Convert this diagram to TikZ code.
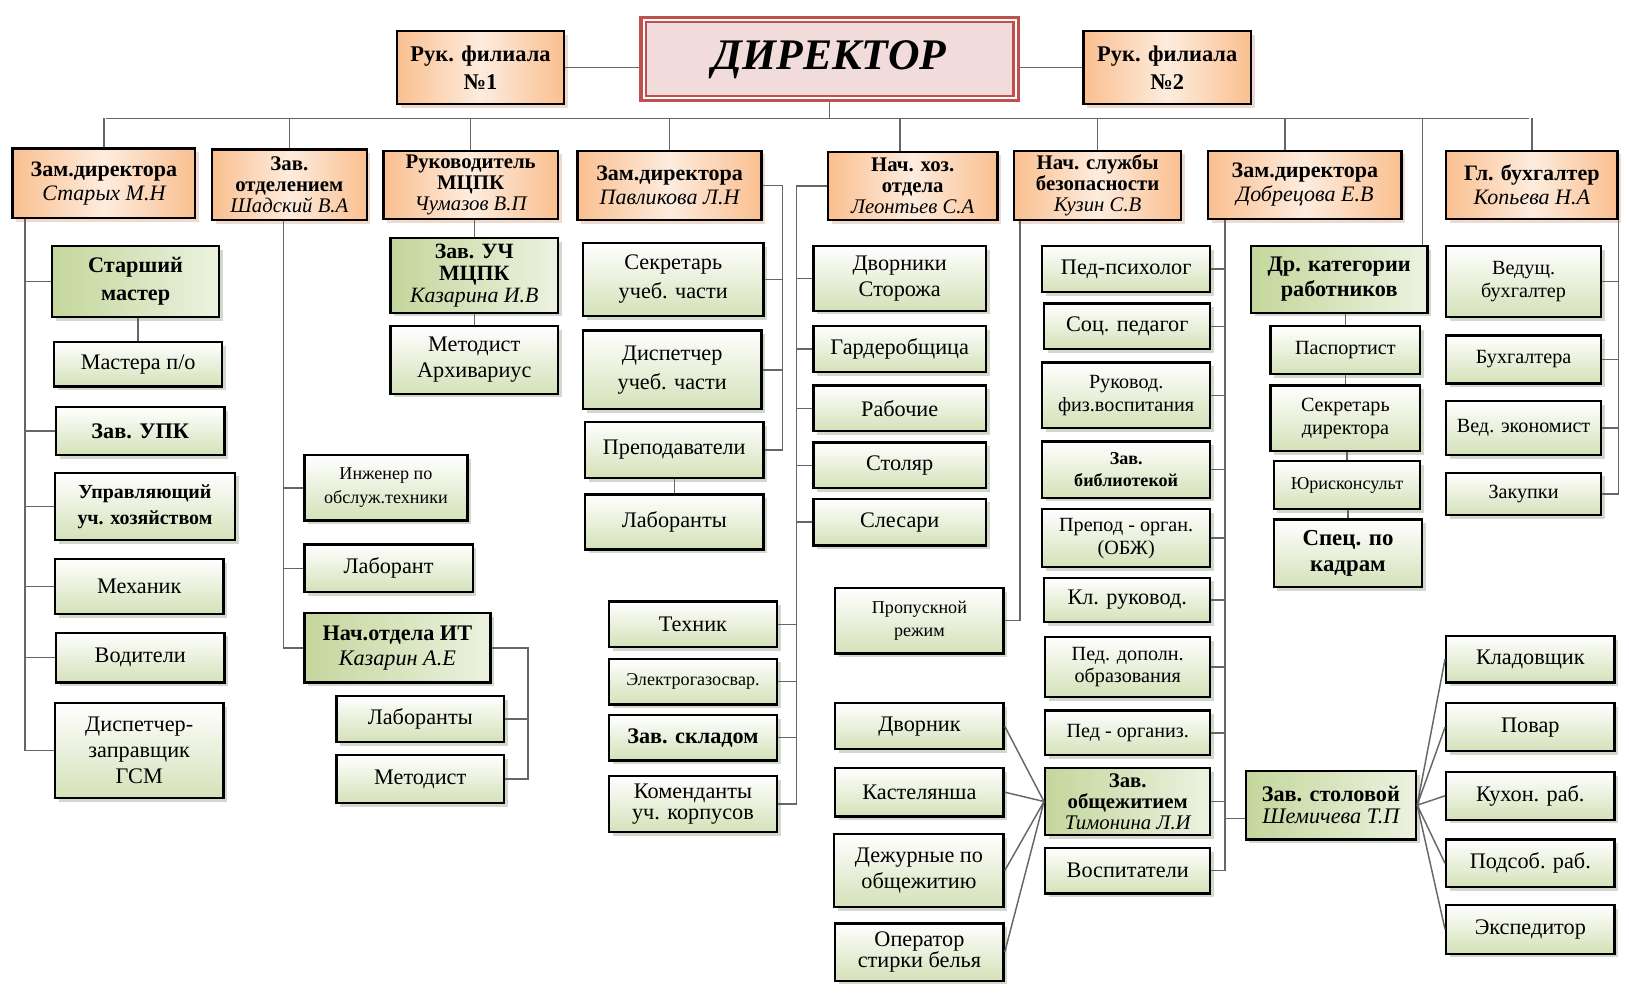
\documentclass[tikz,border=0pt]{standalone}
\usepackage{fontspec}
\setmainfont{Liberation Serif}
\usetikzlibrary{shadows}
\definecolor{hdrorange}{RGB}{250,191,143}
\definecolor{hdrlight}{RGB}{253,236,222}
\definecolor{hdrshadow}{RGB}{224,184,158}
\definecolor{jobgreen}{RGB}{212,225,184}
\definecolor{leadgreen}{RGB}{196,214,156}
\definecolor{leadlight}{RGB}{236,242,224}
\definecolor{jobshadow}{RGB}{170,176,152}
\definecolor{dirred}{RGB}{192,80,77}
\definecolor{dirpink}{RGB}{242,220,219}
\newcommand{\fio}[1]{{\mdseries\itshape #1}}

\begin{document}
\begin{tikzpicture}[x=0.5pt, y=-0.5pt,
  box/.style={draw, line width=1.1pt, inner sep=1pt, align=center,
    font={\fontsize{10.7}{12.5}\selectfont}},
  chief/.style={draw=dirred, line width=3pt, fill=dirpink, align=center,
    font={\bfseries\itshape\fontsize{21}{24}\selectfont}},
  hdr/.style={box, left color=hdrorange, right color=hdrorange,
    middle color=hdrlight,
    drop shadow={shadow xshift=1.8pt, shadow yshift=-1.8pt, fill=hdrshadow},
    font={\bfseries\fontsize{10.6}{11.5}\selectfont}},
  packed/.style={font={\bfseries\fontsize{10}{10}\selectfont\lineskiplimit=-20pt}},
  job/.style={box, top color=white, bottom color=jobgreen,
    drop shadow={shadow xshift=1.8pt, shadow yshift=-1.8pt, fill=jobshadow}},
  lead/.style={job, left color=leadgreen, right color=leadlight},
  sz/.style 2 args={minimum width=#1*0.5pt, minimum height=#2*0.5pt},
  bftext/.style={font={\bfseries\fontsize{10.7}{12.5}\selectfont}},
  smtext/.style={font={\fontsize{9.7}{11}\selectfont}},
  tinytext/.style={font={\fontsize{8.7}{11.5}\selectfont}},
  conn/.style={draw=black!60, line width=0.7pt}]
\useasboundingbox (0,0) rectangle (1568,966);

% top level
\node[chief, sz={360}{77}] (dir) at (798.5,57) {ДИРЕКТОР};
\draw[white, line width=1pt] ([shift={(2pt,2pt)}]dir.south west)
  rectangle ([shift={(-2pt,-2pt)}]dir.north east);
\draw[dirred, line width=1pt] ([shift={(3pt,3pt)}]dir.south west)
  rectangle ([shift={(-3pt,-3pt)}]dir.north east);
\node[hdr, sz={161}{70}, font={\bfseries\fontsize{10.8}{13.5}\selectfont}] (fil1)
  at (462.5,65) {Рук. филиала\\№1};
\node[hdr, sz={161}{70}, font={\bfseries\fontsize{10.8}{13.5}\selectfont}] (fil2)
  at (1123.5,65) {Рук. филиала\\№2};

% deputies and heads
\node[hdr, sz={176}{67}] (zamstar) at (100,176.5) {Зам.директора\\\fio{Старых М.Н}};
\node[hdr, packed, sz={149}{68}] (zavotd) at (278.5,178) {Зав.\\отделением\\\fio{Шадский В.А}};
\node[hdr, packed, sz={168}{66}] (rukmcpk) at (453,178) {Руководитель\\МЦПК\\\fio{Чумазов В.П}};
\node[hdr, sz={177}{67}] (zampav) at (644.5,178.5) {Зам.директора\\\fio{Павликова Л.Н}};
\node[hdr, packed, sz={163}{66}] (nachhoz) at (878.5,179) {Нач. хоз.\\отдела\\\fio{Леонтьев С.А}};
\node[hdr, packed, sz={161}{67}] (bez) at (1056.5,178.5) {Нач. службы\\безопасности\\\fio{Кузин С.В}};
\node[hdr, sz={186}{66}] (zamdob) at (1256,178) {Зам.директора\\\fio{Добрецова Е.В}};
\node[hdr, sz={165}{66}] (glbuh) at (1474.5,178) {Гл. бухгалтер\\\fio{Копьева Н.А}};

% column: Старых
\node[lead, sz={161}{68}, font={\bfseries\fontsize{10.7}{13.5}\selectfont}] (starm)
  at (130.5,271) {Старший\\мастер};
\node[job, sz={162}{43}] (mpo) at (133,350.5) {Мастера п/о};
\node[job, bftext, sz={162}{46}] (upk) at (135,415) {Зав. УПК};
\node[job, sz={173}{65}, font={\bfseries\fontsize{9.6}{12.5}\selectfont}] (uprav)
  at (139.5,487.5) {Управляющий\\уч. хозяйством};
\node[job, sz={162}{53}] (mech) at (134,564.5) {Механик};
\node[job, sz={162}{48}] (vod) at (135,633) {Водители};
\node[job, sz={162}{91}] (disp) at (134,722.5) {Диспетчер-\\заправщик\\ГСМ};

% column: Шадский
\node[job, tinytext, sz={157}{63}] (ing) at (371.5,469.5) {Инженер по\\обслуж.техники};
\node[job, sz={162}{46}] (labt) at (374,547) {Лаборант};
\node[lead, sz={179}{67}, font={\bfseries\fontsize{10.7}{12}\selectfont}] (itnach)
  at (382.5,623.5) {Нач.отдела ИТ\\\fio{Казарин А.Е}};
\node[job, sz={161}{44}] (itlab) at (404.5,692) {Лаборанты};
\node[job, sz={161}{46}] (itmet) at (404.5,750) {Методист};

% column: Чумазов
\node[lead, sz={161}{72}, font={\bfseries\fontsize{10.5}{10.5}\selectfont\lineskiplimit=-20pt}] (zavuch)
  at (456.5,265) {Зав. УЧ\\МЦПК\\\fio{Казарина И.В}};
\node[job, sz={161}{65}] (metarh) at (456.5,346.5) {Методист\\Архивариус};

% column: Павликова
\node[job, sz={174}{70}, font={\fontsize{10.7}{14}\selectfont}] (sekr) at (648,269) {Секретарь\\учеб. части};
\node[job, sz={172}{76}, font={\fontsize{10.7}{14}\selectfont}] (dispu) at (647,356) {Диспетчер\\учеб. части};
\node[job, sz={172}{54}] (prep) at (649,433) {Преподаватели};
\node[job, sz={172}{53}] (labp) at (649,502.5) {Лаборанты};

% column: Леонтьев
\node[job, sz={166}{62}] (dvs) at (866,268) {Дворники\\Сторожа};
\node[job, sz={166}{44}] (gard) at (866,336) {Гардеробщица};
\node[job, sz={166}{44}] (rab) at (866,393) {Рабочие};
\node[job, sz={166}{44}] (stolyar) at (866,448) {Столяр};
\node[job, sz={166}{45}] (sles) at (866,502.5) {Слесари};
\node[job, sz={162}{44}] (tech) at (667,601) {Техник};
\node[job, tinytext, sz={162}{44}] (elek) at (667,656) {Электрогазосвар.};
\node[job, bftext, sz={162}{44}] (sklad) at (667,710) {Зав. складом};
\node[job, sz={162}{54}, font={\fontsize{10.7}{10.5}\selectfont\lineskiplimit=-20pt}] (koment)
  at (667,774) {Коменданты\\уч. корпусов};

% column: Кузин
\node[job, tinytext, sz={162}{63}] (propusk) at (885,597.5) {Пропускной\\режим};

% hostel
\node[job, sz={162}{44}] (dvor) at (885,699) {Дворник};
\node[job, sz={162}{47}] (kast) at (885,762.5) {Кастелянша};
\node[job, sz={163}{70}] (dezh) at (884.5,838) {Дежурные по\\общежитию};
\node[job, sz={162}{55}, font={\fontsize{10.7}{10}\selectfont\lineskiplimit=-20pt}] (oper)
  at (885,916.5) {Оператор\\стирки белья};
\node[lead, sz={159}{65}, font={\bfseries\fontsize{10}{10}\selectfont\lineskiplimit=-20pt}] (obsch)
  at (1085.5,771.5) {Зав.\\общежитием\\\fio{Тимонина Л.И}};
\node[job, sz={159}{44}] (vosp) at (1085.5,838) {Воспитатели};

% column: Добрецова
\node[job, sz={162}{44}] (psych) at (1084,259) {Пед-психолог};
\node[job, sz={160}{44}] (socp) at (1085,314) {Соц. педагог};
\node[job, smtext, sz={162}{63}] (fizv) at (1084,380.5) {Руковод.\\физ.воспитания};
\node[job, sz={162}{54}, font={\bfseries\fontsize{8.7}{11}\selectfont}] (bibl)
  at (1084,452) {Зав.\\библиотекой};
\node[job, smtext, sz={162}{56}] (obzh) at (1084,518) {Препод - орган.\\(ОБЖ)};
\node[job, sz={160}{43}] (klruk) at (1085,577.5) {Кл. руковод.};
\node[job, smtext, sz={159}{58}] (peddop) at (1085.5,642) {Пед. дополн.\\образования};
\node[job, smtext, sz={159}{43}] (pedorg) at (1085.5,705.5) {Пед - организ.};
\node[lead, sz={164}{66}, font={\bfseries\fontsize{10.7}{10.5}\selectfont}] (stolov)
  at (1281,775) {Зав. столовой\\\fio{Шемичева Т.П}};

% other staff
\node[lead, sz={170}{64}, font={\bfseries\fontsize{10.7}{12}\selectfont}] (drk)
  at (1289,269) {Др. категории\\работников};
\node[job, smtext, sz={144}{46}] (pasp) at (1295,337) {Паспортист};
\node[job, smtext, sz={144}{63}] (sekd) at (1295,402.5) {Секретарь\\директора};
\node[job, tinytext, sz={141}{46}] (yur) at (1296.5,467) {Юрисконсульт};
\node[job, sz={143}{65}, font={\bfseries\fontsize{11}{12.5}\selectfont}] (kadr)
  at (1297.5,532.5) {Спец. по\\кадрам};

% accounting
\node[job, smtext, sz={149}{68}] (vbuh) at (1466.5,271) {Ведущ.\\бухгалтер};
\node[job, smtext, sz={149}{46}] (buhs) at (1466.5,346) {Бухгалтера};
\node[job, smtext, sz={149}{52}] (vecon) at (1466.5,412) {Вед. экономист};
\node[job, smtext, sz={149}{41}] (zak) at (1466.5,475.5) {Закупки};

% canteen
\node[job, sz={162}{45}] (klad) at (1473,634.5) {Кладовщик};
\node[job, sz={162}{46}] (povar) at (1473,700) {Повар};
\node[job, sz={162}{46}] (kuhon) at (1473,766) {Кухон. раб.};
\node[job, sz={162}{46}] (podsob) at (1473,831) {Подсоб. раб.};
\node[job, sz={162}{47}] (eksp) at (1473,894.5) {Экспедитор};

% connectors
\coordinate (busL) at (102,114);
\coordinate (busR) at (1472,114);
\draw[conn] (busL) -- (busR) (dir.south) -- (dir.south |- busL);
\draw[conn] (fil1.east) -- (fil1.east -| dir.west) (fil2.west) -- (fil2.west -| dir.east);
\draw[conn] (zamstar.north) -- (zamstar.north |- busL)
  (zavotd.north) -- (zavotd.north |- busL)
  (rukmcpk.north) -- (rukmcpk.north |- busL)
  (zampav.north) -- (zampav.north |- busL)
  ([xshift=-6pt]nachhoz.north) -- ([xshift=-6pt]nachhoz.north |- busL)
  (bez.north) -- (bez.north |- busL)
  ([xshift=-9.5pt]zamdob.north) -- ([xshift=-9.5pt]zamdob.north |- busL)
  (glbuh.north) -- (glbuh.north |- busL)
  ([xshift=-3pt]drk.north east) -- ([xshift=-3pt]drk.north east |- busR);

\coordinate (c1) at ([xshift=6.5pt]zamstar.south west);
\draw[conn] (c1) |- (disp.west) (starm.west) -- (starm.west -| c1)
  (upk.west) -- (upk.west -| c1) (uprav.west) -- (uprav.west -| c1)
  (mech.west) -- (mech.west -| c1) (vod.west) -- (vod.west -| c1)
  (mpo.north) -- (mpo.north |- starm.south);

\coordinate (c2) at ([xshift=-2.75pt]zavotd.south);
\coordinate (itr) at ([xshift=17.5pt]itnach.east);
\draw[conn] (c2) |- (itnach.west) (ing.west) -- (ing.west -| c2)
  (labt.west) -- (labt.west -| c2)
  (itnach.east) -- (itr) |- (itmet.east) (itlab.east) -- (itlab.east -| itr);

\draw[conn] (zavuch.north) -- (zavuch.north |- rukmcpk.south)
  (metarh.north) -- (zavuch.south);

\coordinate (c4) at ([xshift=9.5pt]zampav.east);
\draw[conn] (zampav.east) -- (c4) |- (prep.east)
  (sekr.east) -- (sekr.east -| c4) (dispu.east) -- (dispu.east -| c4)
  (prep.south) -- (labp.north);

\coordinate (c5) at ([xshift=-14.5pt]nachhoz.west);
\draw[conn] (nachhoz.west) -- (c5) |- (koment.east)
  (dvs.west) -- (dvs.west -| c5) (gard.west) -- (gard.west -| c5)
  (rab.west) -- (rab.west -| c5) (stolyar.west) -- (stolyar.west -| c5)
  (sles.west) -- (sles.west -| c5) (tech.east) -- (tech.east -| c5)
  (elek.east) -- (elek.east -| c5) (sklad.east) -- (sklad.east -| c5);

\coordinate (c6) at ([xshift=3.5pt]bez.south west);
\draw[conn] (c6) |- (propusk.east);

\coordinate (c7) at ([xshift=8.5pt]zamdob.south west);
\coordinate (stj) at ([yshift=-6.5pt]stolov.west);
\draw[conn] (c7) |- (vosp.east)
  (psych.east) -- (psych.east -| c7) (socp.east) -- (socp.east -| c7)
  (fizv.east) -- (fizv.east -| c7) (bibl.east) -- (bibl.east -| c7)
  (obzh.east) -- (obzh.east -| c7) (klruk.east) -- (klruk.east -| c7)
  (peddop.east) -- (peddop.east -| c7) (pedorg.east) -- (pedorg.east -| c7)
  (obsch.east) -- (obsch.east -| c7) (stj) -- (stj -| c7);

\draw[conn] (dvor.east) -- (obsch.west) (kast.east) -- (obsch.west)
  (dezh.east) -- (obsch.west) (oper.east) -- (obsch.west);

\draw[conn] (pasp.north) -- (pasp.north |- drk.south) (sekd.north) -- (pasp.south)
  (yur.north) -- (yur.north |- sekd.south) (kadr.north) -- (kadr.north |- yur.south);

\coordinate (c8) at (glbuh.south east);
\draw[conn] (c8) |- (zak.east) (vbuh.east) -- (vbuh.east -| c8)
  (buhs.east) -- (buhs.east -| c8) (vecon.east) -- (vecon.east -| c8);

\draw[conn] (stolov.east) -- (klad.west) (stolov.east) -- (povar.west)
  (stolov.east) -- (kuhon.west) (stolov.east) -- (podsob.west)
  (stolov.east) -- (eksp.west);
\end{tikzpicture}
\end{document}
